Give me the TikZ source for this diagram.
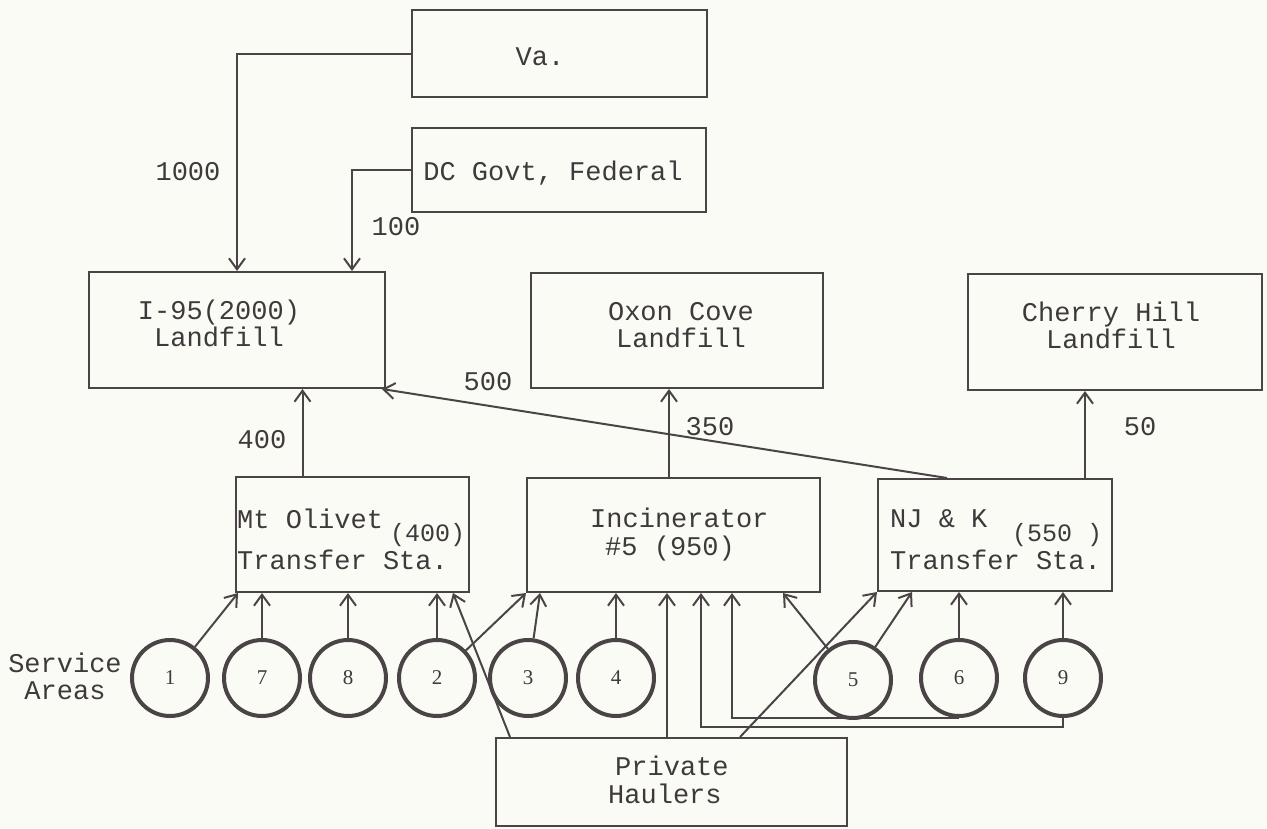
\documentclass[tikz,border=0pt]{standalone}
\usepackage{fontspec}
\setmonofont{Liberation Mono}
\newfontfamily\numfont{Liberation Serif}
\usetikzlibrary{arrows.meta}
\definecolor{ink}{HTML}{4A4446}
\definecolor{txt}{HTML}{3E3A3C}
\definecolor{paper}{HTML}{FBFBF6}
\tikzset{
  box/.style={draw=ink, line width=2pt, rectangle, inner sep=0pt},
  circ/.style={draw=ink, line width=4pt, circle, minimum size=76pt, inner sep=0pt,
    text=txt, font=\numfont\fontsize{21}{22}\selectfont},
  lbl/.style={text=txt, inner sep=0pt, font=\ttfamily\fontsize{27}{28}\selectfont},
  sublbl/.style={text=txt, inner sep=0pt, font=\ttfamily\fontsize{25}{26}\selectfont},
  arr/.style={draw=ink, line width=2pt, -{Straight Barb[length=11pt,width=16pt]}}
}
\begin{document}
\begin{tikzpicture}[x=1pt,y=-1pt]
\fill[paper] (0,0) rectangle (1267,828);
\useasboundingbox (0,0) rectangle (1267,828);
% boxes
\node[box, minimum width=295pt, minimum height=87pt] (va) at (559.5,53.5) {};
\node[box, minimum width=294pt, minimum height=84pt] (dc) at (559,170) {};
\node[box, minimum width=296pt, minimum height=116pt] (i95) at (237,330) {};
\node[box, minimum width=292pt, minimum height=115pt] (oxon) at (677,330.5) {};
\node[box, minimum width=294pt, minimum height=116pt] (cherry) at (1115,332) {};
\node[box, minimum width=233pt, minimum height=115pt] (olivet) at (352.5,534.5) {};
\node[box, minimum width=293pt, minimum height=114pt] (incin) at (673.5,535) {};
\node[box, minimum width=234pt, minimum height=112pt] (njk) at (995,535) {};
\node[box, minimum width=351pt, minimum height=88pt] (priv) at (671.5,782) {};
% texts in boxes
\node[lbl, anchor=base] (tva) at (540,65) {Va.};
\node[lbl, anchor=base] (tdc) at (553,180) {DC Govt, Federal};
\node[lbl, anchor=base] (ti95a) at (219,319) {I-95(2000)};
\node[lbl, anchor=base] (ti95b) at (219,346) {Landfill};
\node[lbl, anchor=base] (toxa) at (681,320) {Oxon Cove};
\node[lbl, anchor=base] (toxb) at (681,347) {Landfill};
\node[lbl, anchor=base] (tcha) at (1111,321) {Cherry Hill};
\node[lbl, anchor=base] (tchb) at (1111,348) {Landfill};
\node[lbl, anchor=base west] (tola) at (237,528) {Mt Olivet};
\node[sublbl, anchor=base west] (tolb) at (390,541) {(400)};
\node[lbl, anchor=base west] (tolc) at (237,569) {Transfer Sta.};
\node[lbl, anchor=base west] (tina) at (590,527) {Incinerator};
\node[lbl, anchor=base west] (tinb) at (605,555) {\#5 (950)};
\node[lbl, anchor=base west] (tnja) at (890,527) {NJ \& K};
\node[sublbl, anchor=base west] (tnjb) at (1012,541) {(550 )};
\node[lbl, anchor=base west] (tnjc) at (890,569) {Transfer Sta.};
\node[lbl, anchor=base west] (tpra) at (615,775) {Private};
\node[lbl, anchor=base west] (tprb) at (608,803) {Haulers};
\node[lbl, anchor=base] (tsva) at (65,672) {Service};
\node[lbl, anchor=base] (tsvb) at (65,699) {Areas};
% flow labels
\node[lbl, anchor=base] (n1000) at (188,180) {1000};
\node[lbl, anchor=base] (n100) at (396,235) {100};
\node[lbl, anchor=base] (n400) at (262,448) {400};
\node[lbl, anchor=base] (n500) at (488,390) {500};
\node[lbl, anchor=base] (n350) at (710,435) {350};
\node[lbl, anchor=base] (n50) at (1140,435) {50};
% service areas
\node[circ] (c1) at (170,678) {1};
\node[circ] (c7) at (262,678) {7};
\node[circ] (c8) at (348,678) {8};
\node[circ] (c2) at (437,678) {2};
\node[circ] (c3) at (528,678) {3};
\node[circ] (c4) at (616,678) {4};
\node[circ] (c5) at (853,680) {5};
\node[circ] (c6) at (959,678) {6};
\node[circ] (c9) at (1063,678) {9};
% upper connectors
\draw[arr] (va.west) -| (i95.north);
\draw[arr] (dc.west) -| ([xshift=115pt]i95.north);
\draw[arr] ([xshift=-50pt]olivet.north) -- ([xshift=-50pt]olivet.north |- i95.south);
\draw[arr] ([xshift=-48pt]njk.north) -- ([xshift=-4pt]i95.south east);
\draw[arr] ([xshift=-4.5pt]incin.north) -- ([xshift=-4.5pt]incin.north |- oxon.south);
\draw[arr] ([xshift=90pt]njk.north) -- ([xshift=90pt]njk.north |- cherry.south);
% lower connectors
\draw[arr] (c1) -- ([xshift=3pt]olivet.south west);
\draw[arr] (c7.north) -- (c7.north |- olivet.south);
\draw[arr] (c8.north) -- (c8.north |- olivet.south);
\draw[arr] (c2.north) -- (c2.north |- olivet.south);
\draw[arr] ([xshift=-161.5pt]priv.north) -- ([xshift=100.5pt]olivet.south);
\draw[arr] (c2) -- (incin.south west);
\draw[arr] (c3) -- ([xshift=-133.5pt]incin.south);
\draw[arr] (c4.north) -- (c4.north |- incin.south);
\draw[arr] ([xshift=-4.5pt]priv.north) -- ([xshift=-6.5pt]incin.south);
\draw[arr] (c9.south) -- ++(0,9) -| ([xshift=27.5pt]incin.south);
\draw[arr] (c6.south) -| ([xshift=58.5pt]incin.south);
\draw[arr] (c5) -- ([xshift=109.5pt]incin.south);
\draw[arr] ([xshift=68.5pt]priv.north) -- (njk.south west);
\draw[arr] (c5) -- ([xshift=-83pt]njk.south);
\draw[arr] (c6.north) -- (c6.north |- njk.south);
\draw[arr] (c9.north) -- (c9.north |- njk.south);
\end{tikzpicture}
\end{document}
